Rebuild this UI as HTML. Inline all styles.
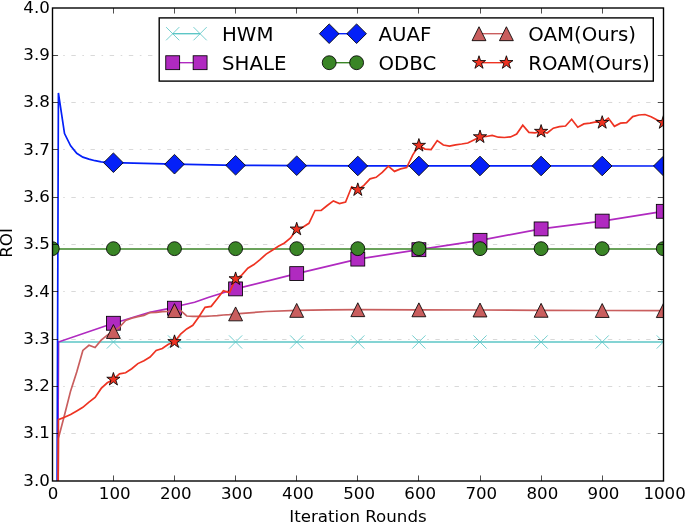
<!DOCTYPE html>
<html><head><meta charset="utf-8"><title>ROI vs Iteration Rounds</title>
<style>html,body{margin:0;padding:0;background:#fff;overflow:hidden}body{width:685px;height:522px;position:relative}</style></head>
<body>
<svg width="685" height="522" viewBox="0 0 685 522" style="display:block;position:absolute;left:0;top:0;will-change:transform">
<rect width="685" height="522" fill="#fff"/>
<defs><clipPath id="ax"><rect x="52.50" y="8.00" width="611.00" height="473.00"/></clipPath></defs>
<line x1="52.20" y1="433.50" x2="663.50" y2="433.50" stroke="#c8c8c8" stroke-width="0.69" stroke-dasharray="4.4 6.6 1.6 6.56"/>
<line x1="52.20" y1="386.50" x2="663.50" y2="386.50" stroke="#c8c8c8" stroke-width="0.69" stroke-dasharray="4.4 6.6 1.6 6.56"/>
<line x1="52.20" y1="339.50" x2="663.50" y2="339.50" stroke="#c8c8c8" stroke-width="0.69" stroke-dasharray="4.4 6.6 1.6 6.56"/>
<line x1="52.20" y1="291.50" x2="663.50" y2="291.50" stroke="#c8c8c8" stroke-width="0.69" stroke-dasharray="4.4 6.6 1.6 6.56"/>
<line x1="52.20" y1="244.50" x2="663.50" y2="244.50" stroke="#c8c8c8" stroke-width="0.69" stroke-dasharray="4.4 6.6 1.6 6.56"/>
<line x1="52.20" y1="197.50" x2="663.50" y2="197.50" stroke="#c8c8c8" stroke-width="0.69" stroke-dasharray="4.4 6.6 1.6 6.56"/>
<line x1="52.20" y1="149.50" x2="663.50" y2="149.50" stroke="#c8c8c8" stroke-width="0.69" stroke-dasharray="4.4 6.6 1.6 6.56"/>
<line x1="52.20" y1="102.50" x2="663.50" y2="102.50" stroke="#c8c8c8" stroke-width="0.69" stroke-dasharray="4.4 6.6 1.6 6.56"/>
<line x1="52.20" y1="55.50" x2="663.50" y2="55.50" stroke="#c8c8c8" stroke-width="0.69" stroke-dasharray="4.4 6.6 1.6 6.56"/>
<g clip-path="url(#ax)">
<polyline points="52.30,1900.00 58.41,342.00 663.50,342.00" fill="none" stroke="#5cc6c6" stroke-width="1.70" stroke-linejoin="miter" stroke-miterlimit="4"/>
<path d="M106.81 335.40L120.00 348.60M106.81 348.60L120.00 335.40" stroke="#5cc6c6" stroke-width="0.85" fill="none"/>
<path d="M167.91 335.40L181.09 348.60M167.91 348.60L181.09 335.40" stroke="#5cc6c6" stroke-width="0.85" fill="none"/>
<path d="M229.00 335.40L242.19 348.60M229.00 348.60L242.19 335.40" stroke="#5cc6c6" stroke-width="0.85" fill="none"/>
<path d="M290.10 335.40L303.30 348.60M290.10 348.60L303.30 335.40" stroke="#5cc6c6" stroke-width="0.85" fill="none"/>
<path d="M351.20 335.40L364.40 348.60M351.20 348.60L364.40 335.40" stroke="#5cc6c6" stroke-width="0.85" fill="none"/>
<path d="M412.30 335.40L425.50 348.60M412.30 348.60L425.50 335.40" stroke="#5cc6c6" stroke-width="0.85" fill="none"/>
<path d="M473.40 335.40L486.60 348.60M473.40 348.60L486.60 335.40" stroke="#5cc6c6" stroke-width="0.85" fill="none"/>
<path d="M534.50 335.40L547.70 348.60M534.50 348.60L547.70 335.40" stroke="#5cc6c6" stroke-width="0.85" fill="none"/>
<path d="M595.60 335.40L608.79 348.60M595.60 348.60L608.79 335.40" stroke="#5cc6c6" stroke-width="0.85" fill="none"/>
<path d="M656.70 335.40L669.89 348.60M656.70 348.60L669.89 335.40" stroke="#5cc6c6" stroke-width="0.85" fill="none"/>
<polyline points="52.30,1900.00 58.41,342.00 113.40,323.25 121.20,321.05 137.50,315.95 149.80,312.40 167.20,308.80 174.50,308.20 181.60,305.20 194.60,302.30 208.90,297.30 223.30,292.70 235.60,288.90 296.70,273.60 357.80,259.10 418.90,249.70 480.00,240.30 541.10,228.90 602.20,221.10 663.30,211.30" fill="none" stroke="#b02ac0" stroke-width="1.70" stroke-linejoin="miter" stroke-miterlimit="4"/>
<rect x="106.46" y="316.31" width="13.89" height="13.89" fill="#b02ac0" stroke="#000" stroke-width="0.85"/>
<rect x="167.56" y="301.25" width="13.89" height="13.89" fill="#b02ac0" stroke="#000" stroke-width="0.85"/>
<rect x="228.65" y="281.95" width="13.89" height="13.89" fill="#b02ac0" stroke="#000" stroke-width="0.85"/>
<rect x="289.75" y="266.66" width="13.89" height="13.89" fill="#b02ac0" stroke="#000" stroke-width="0.85"/>
<rect x="350.86" y="252.16" width="13.89" height="13.89" fill="#b02ac0" stroke="#000" stroke-width="0.85"/>
<rect x="411.95" y="242.75" width="13.89" height="13.89" fill="#b02ac0" stroke="#000" stroke-width="0.85"/>
<rect x="473.06" y="233.36" width="13.89" height="13.89" fill="#b02ac0" stroke="#000" stroke-width="0.85"/>
<rect x="534.15" y="221.96" width="13.89" height="13.89" fill="#b02ac0" stroke="#000" stroke-width="0.85"/>
<rect x="595.25" y="214.16" width="13.89" height="13.89" fill="#b02ac0" stroke="#000" stroke-width="0.85"/>
<rect x="656.35" y="204.36" width="13.89" height="13.89" fill="#b02ac0" stroke="#000" stroke-width="0.85"/>
<polyline points="52.30,1900.00 58.41,93.00 64.52,133.60 70.63,145.80 76.74,153.30 82.85,157.10 88.96,159.10 95.07,160.70 101.18,161.80 107.29,162.30 113.40,162.70 174.50,164.20 235.60,165.30 296.70,165.70 357.80,165.95 663.30,166.00" fill="none" stroke="#0420f8" stroke-width="1.70" stroke-linejoin="miter" stroke-miterlimit="4"/>
<path d="M113.40 152.88L123.22 162.70L113.40 172.52L103.58 162.70Z" fill="#0420f8" stroke="#000" stroke-width="0.85"/>
<path d="M174.50 154.38L184.32 164.20L174.50 174.02L164.68 164.20Z" fill="#0420f8" stroke="#000" stroke-width="0.85"/>
<path d="M235.60 155.48L245.42 165.30L235.60 175.12L225.78 165.30Z" fill="#0420f8" stroke="#000" stroke-width="0.85"/>
<path d="M296.70 155.88L306.52 165.70L296.70 175.52L286.88 165.70Z" fill="#0420f8" stroke="#000" stroke-width="0.85"/>
<path d="M357.80 156.13L367.62 165.95L357.80 175.77L347.98 165.95Z" fill="#0420f8" stroke="#000" stroke-width="0.85"/>
<path d="M418.90 156.14L428.72 165.96L418.90 175.78L409.08 165.96Z" fill="#0420f8" stroke="#000" stroke-width="0.85"/>
<path d="M480.00 156.15L489.82 165.97L480.00 175.79L470.18 165.97Z" fill="#0420f8" stroke="#000" stroke-width="0.85"/>
<path d="M541.10 156.16L550.92 165.98L541.10 175.80L531.28 165.98Z" fill="#0420f8" stroke="#000" stroke-width="0.85"/>
<path d="M602.20 156.17L612.02 165.99L602.20 175.81L592.38 165.99Z" fill="#0420f8" stroke="#000" stroke-width="0.85"/>
<path d="M663.30 156.18L673.12 166.00L663.30 175.82L653.48 166.00Z" fill="#0420f8" stroke="#000" stroke-width="0.85"/>
<polyline points="52.50,249.00 663.50,249.00" fill="none" stroke="#3a8526" stroke-width="1.70" stroke-linejoin="miter" stroke-miterlimit="4"/>
<circle cx="52.30" cy="248.65" r="6.95" fill="#3a8526" stroke="#000" stroke-width="0.85"/>
<circle cx="113.40" cy="248.65" r="6.95" fill="#3a8526" stroke="#000" stroke-width="0.85"/>
<circle cx="174.50" cy="248.65" r="6.95" fill="#3a8526" stroke="#000" stroke-width="0.85"/>
<circle cx="235.60" cy="248.65" r="6.95" fill="#3a8526" stroke="#000" stroke-width="0.85"/>
<circle cx="296.70" cy="248.65" r="6.95" fill="#3a8526" stroke="#000" stroke-width="0.85"/>
<circle cx="357.80" cy="248.65" r="6.95" fill="#3a8526" stroke="#000" stroke-width="0.85"/>
<circle cx="418.90" cy="248.65" r="6.95" fill="#3a8526" stroke="#000" stroke-width="0.85"/>
<circle cx="480.00" cy="248.65" r="6.95" fill="#3a8526" stroke="#000" stroke-width="0.85"/>
<circle cx="541.10" cy="248.65" r="6.95" fill="#3a8526" stroke="#000" stroke-width="0.85"/>
<circle cx="602.20" cy="248.65" r="6.95" fill="#3a8526" stroke="#000" stroke-width="0.85"/>
<circle cx="663.30" cy="248.65" r="6.95" fill="#3a8526" stroke="#000" stroke-width="0.85"/>
<polyline points="52.30,1900.00 58.41,438.30 64.52,415.00 70.63,390.90 76.74,372.00 82.85,350.40 88.96,345.30 95.07,347.60 101.18,340.20 107.29,335.10 113.40,331.50 119.51,327.20 125.62,320.50 131.73,318.30 137.84,316.70 143.95,315.40 150.06,312.60 156.17,312.40 162.28,311.70 168.39,311.35 174.50,310.60 180.61,310.50 186.72,316.00 192.83,316.40 198.94,316.40 205.05,316.30 211.16,316.00 217.27,315.60 223.38,315.00 229.49,314.60 235.60,313.90 266.15,311.50 296.70,310.40 327.25,309.90 357.80,309.70 418.90,309.80 480.00,310.00 541.10,310.30 602.20,310.50 663.30,310.60" fill="none" stroke="#c95e5e" stroke-width="1.70" stroke-linejoin="miter" stroke-miterlimit="4"/>
<path d="M113.40 324.56L106.46 338.44L120.34 338.44Z" fill="#c95e5e" stroke="#000" stroke-width="0.85"/>
<path d="M174.50 303.66L167.56 317.55L181.44 317.55Z" fill="#c95e5e" stroke="#000" stroke-width="0.85"/>
<path d="M235.60 306.95L228.65 320.84L242.54 320.84Z" fill="#c95e5e" stroke="#000" stroke-width="0.85"/>
<path d="M296.70 303.45L289.75 317.34L303.64 317.34Z" fill="#c95e5e" stroke="#000" stroke-width="0.85"/>
<path d="M357.80 302.75L350.86 316.64L364.75 316.64Z" fill="#c95e5e" stroke="#000" stroke-width="0.85"/>
<path d="M418.90 302.86L411.95 316.75L425.84 316.75Z" fill="#c95e5e" stroke="#000" stroke-width="0.85"/>
<path d="M480.00 303.06L473.06 316.94L486.94 316.94Z" fill="#c95e5e" stroke="#000" stroke-width="0.85"/>
<path d="M541.10 303.36L534.15 317.25L548.05 317.25Z" fill="#c95e5e" stroke="#000" stroke-width="0.85"/>
<path d="M602.20 303.56L595.25 317.44L609.14 317.44Z" fill="#c95e5e" stroke="#000" stroke-width="0.85"/>
<path d="M663.30 303.66L656.35 317.55L670.25 317.55Z" fill="#c95e5e" stroke="#000" stroke-width="0.85"/>
<polyline points="52.30,1900.00 58.41,419.60 64.52,417.20 70.63,414.45 76.74,410.90 82.85,407.30 88.96,402.20 95.07,397.40 101.18,388.40 107.29,382.80 113.40,379.40 119.51,373.80 125.62,372.80 131.73,368.70 137.84,363.60 143.95,360.75 150.06,357.00 156.17,350.50 162.28,348.50 168.39,344.20 174.50,341.80 180.61,334.00 186.72,328.90 192.83,325.30 198.94,316.70 205.05,307.40 211.16,306.40 217.27,298.70 223.38,290.80 229.49,292.60 235.60,278.90 241.71,275.10 247.82,268.20 253.93,264.60 260.04,259.60 266.15,254.10 272.26,250.20 278.37,246.20 284.48,243.00 290.59,238.00 296.70,229.20 302.81,227.30 308.92,223.30 315.03,210.50 321.14,210.50 327.25,205.50 333.36,200.90 339.47,203.60 345.58,202.00 351.69,186.80 357.80,189.80 363.91,185.40 370.02,178.80 376.13,177.30 382.24,172.40 388.35,166.10 394.46,171.40 400.57,168.90 406.68,167.60 412.79,154.90 418.90,145.50 425.01,149.10 431.12,149.60 437.23,140.60 443.34,145.00 449.45,146.10 455.56,144.80 461.67,144.00 467.78,143.00 473.89,139.90 480.00,136.90 486.11,136.50 492.22,135.45 498.33,137.20 504.44,137.50 510.55,136.90 516.66,134.10 522.77,125.20 528.88,132.40 534.99,132.80 541.10,131.50 547.21,133.00 553.32,128.20 559.43,126.70 565.54,126.00 571.65,119.30 577.76,127.20 583.87,123.90 589.98,123.10 596.09,121.80 602.20,122.60 608.31,118.10 614.42,126.30 620.53,123.20 626.64,122.70 632.75,116.60 638.86,115.00 644.97,114.50 651.08,116.80 657.19,120.10 663.30,122.70" fill="none" stroke="#ee3322" stroke-width="1.70" stroke-linejoin="miter" stroke-miterlimit="4"/>
<path d="M113.40 372.45L111.84 377.25L106.79 377.25L110.88 380.22L109.32 385.02L113.40 382.05L117.48 385.02L115.92 380.22L120.01 377.25L114.96 377.25Z" fill="#ee3322" stroke="#000" stroke-width="0.85" stroke-linejoin="miter" stroke-miterlimit="3"/>
<path d="M174.50 334.86L172.94 339.65L167.89 339.65L171.98 342.62L170.42 347.42L174.50 344.45L178.58 347.42L177.02 342.62L181.11 339.65L176.06 339.65Z" fill="#ee3322" stroke="#000" stroke-width="0.85" stroke-linejoin="miter" stroke-miterlimit="3"/>
<path d="M235.60 271.95L234.04 276.75L228.99 276.75L233.08 279.72L231.52 284.52L235.60 281.55L239.68 284.52L238.12 279.72L242.21 276.75L237.16 276.75Z" fill="#ee3322" stroke="#000" stroke-width="0.85" stroke-linejoin="miter" stroke-miterlimit="3"/>
<path d="M296.70 222.25L295.14 227.05L290.09 227.05L294.18 230.02L292.62 234.82L296.70 231.85L300.78 234.82L299.22 230.02L303.31 227.05L298.26 227.05Z" fill="#ee3322" stroke="#000" stroke-width="0.85" stroke-linejoin="miter" stroke-miterlimit="3"/>
<path d="M357.80 182.86L356.24 187.65L351.19 187.65L355.28 190.62L353.72 195.42L357.80 192.45L361.88 195.42L360.32 190.62L364.41 187.65L359.36 187.65Z" fill="#ee3322" stroke="#000" stroke-width="0.85" stroke-linejoin="miter" stroke-miterlimit="3"/>
<path d="M418.90 138.56L417.34 143.35L412.29 143.35L416.38 146.32L414.82 151.12L418.90 148.15L422.98 151.12L421.42 146.32L425.51 143.35L420.46 143.35Z" fill="#ee3322" stroke="#000" stroke-width="0.85" stroke-linejoin="miter" stroke-miterlimit="3"/>
<path d="M480.00 129.96L478.44 134.75L473.39 134.75L477.48 137.72L475.92 142.52L480.00 139.55L484.08 142.52L482.52 137.72L486.61 134.75L481.56 134.75Z" fill="#ee3322" stroke="#000" stroke-width="0.85" stroke-linejoin="miter" stroke-miterlimit="3"/>
<path d="M541.10 124.56L539.54 129.35L534.49 129.35L538.58 132.32L537.02 137.12L541.10 134.15L545.18 137.12L543.62 132.32L547.71 129.35L542.66 129.35Z" fill="#ee3322" stroke="#000" stroke-width="0.85" stroke-linejoin="miter" stroke-miterlimit="3"/>
<path d="M602.20 115.66L600.64 120.45L595.59 120.45L599.68 123.42L598.12 128.22L602.20 125.25L606.28 128.22L604.72 123.42L608.81 120.45L603.76 120.45Z" fill="#ee3322" stroke="#000" stroke-width="0.85" stroke-linejoin="miter" stroke-miterlimit="3"/>
<path d="M663.30 115.75L661.74 120.55L656.69 120.55L660.78 123.52L659.22 128.32L663.30 125.35L667.38 128.32L665.82 123.52L669.91 120.55L664.86 120.55Z" fill="#ee3322" stroke="#000" stroke-width="0.85" stroke-linejoin="miter" stroke-miterlimit="3"/>
</g>
<path d="M113.50 481.00V475.44M113.50 8.00V13.56M52.50 433.50H58.06M663.50 433.50H657.94M174.50 481.00V475.44M174.50 8.00V13.56M52.50 386.50H58.06M663.50 386.50H657.94M235.50 481.00V475.44M235.50 8.00V13.56M52.50 339.50H58.06M663.50 339.50H657.94M296.50 481.00V475.44M296.50 8.00V13.56M52.50 291.50H58.06M663.50 291.50H657.94M357.50 481.00V475.44M357.50 8.00V13.56M52.50 244.50H58.06M663.50 244.50H657.94M418.50 481.00V475.44M418.50 8.00V13.56M52.50 197.50H58.06M663.50 197.50H657.94M480.50 481.00V475.44M480.50 8.00V13.56M52.50 149.50H58.06M663.50 149.50H657.94M541.50 481.00V475.44M541.50 8.00V13.56M52.50 102.50H58.06M663.50 102.50H657.94M602.50 481.00V475.44M602.50 8.00V13.56M52.50 55.50H58.06M663.50 55.50H657.94" stroke="#000" stroke-width="0.69" fill="none"/>
<rect x="52.50" y="8.00" width="611.00" height="473.00" fill="none" stroke="#000" stroke-width="1.39"/>
<g font-family="'DejaVu Sans', 'Liberation Sans', sans-serif" font-size="16.67" fill="#000">
<text x="53.10" y="498.76" text-anchor="middle">0</text>
<text x="49.84" y="485.70" text-anchor="end">3.0</text>
<text x="114.70" y="498.76" text-anchor="middle">100</text>
<text x="49.84" y="438.40" text-anchor="end">3.1</text>
<text x="175.80" y="498.76" text-anchor="middle">200</text>
<text x="49.84" y="391.10" text-anchor="end">3.2</text>
<text x="236.90" y="498.76" text-anchor="middle">300</text>
<text x="49.84" y="343.80" text-anchor="end">3.3</text>
<text x="298.00" y="498.76" text-anchor="middle">400</text>
<text x="49.84" y="296.50" text-anchor="end">3.4</text>
<text x="359.10" y="498.76" text-anchor="middle">500</text>
<text x="49.84" y="249.20" text-anchor="end">3.5</text>
<text x="420.20" y="498.76" text-anchor="middle">600</text>
<text x="49.84" y="201.90" text-anchor="end">3.6</text>
<text x="481.30" y="498.76" text-anchor="middle">700</text>
<text x="49.84" y="154.60" text-anchor="end">3.7</text>
<text x="542.40" y="498.76" text-anchor="middle">800</text>
<text x="49.84" y="107.30" text-anchor="end">3.8</text>
<text x="603.50" y="498.76" text-anchor="middle">900</text>
<text x="49.84" y="60.00" text-anchor="end">3.9</text>
<text x="664.60" y="498.76" text-anchor="middle">1000</text>
<text x="49.84" y="12.70" text-anchor="end">4.0</text>
<text x="358.00" y="522.40" text-anchor="middle">Iteration Rounds</text>
<text transform="translate(11.60 243.00) rotate(-90)" text-anchor="middle">ROI</text>
</g>
<rect x="159.20" y="17.90" width="494.10" height="63.20" fill="#fff" stroke="#000" stroke-width="1.39"/>
<g font-family="'DejaVu Sans', 'Liberation Sans', sans-serif" font-size="19.75" fill="#000">
<polyline points="172.70,33.70 200.10,33.70" fill="none" stroke="#5cc6c6" stroke-width="1.39" stroke-linejoin="miter" stroke-miterlimit="4"/>
<path d="M166.10 27.11L179.29 40.30M166.10 40.30L179.29 27.11" stroke="#5cc6c6" stroke-width="0.85" fill="none"/>
<path d="M193.50 27.11L206.69 40.30M193.50 40.30L206.69 27.11" stroke="#5cc6c6" stroke-width="0.85" fill="none"/>
<text x="222.00" y="40.70">HWM</text>
<polyline points="172.70,62.70 200.10,62.70" fill="none" stroke="#b02ac0" stroke-width="1.39" stroke-linejoin="miter" stroke-miterlimit="4"/>
<rect x="165.75" y="55.76" width="13.89" height="13.89" fill="#b02ac0" stroke="#000" stroke-width="0.85"/>
<rect x="193.16" y="55.76" width="13.89" height="13.89" fill="#b02ac0" stroke="#000" stroke-width="0.85"/>
<text x="222.00" y="69.70">SHALE</text>
<polyline points="329.20,33.70 356.60,33.70" fill="none" stroke="#0420f8" stroke-width="1.39" stroke-linejoin="miter" stroke-miterlimit="4"/>
<path d="M329.20 23.88L339.02 33.70L329.20 43.52L319.38 33.70Z" fill="#0420f8" stroke="#000" stroke-width="0.85"/>
<path d="M356.60 23.88L366.42 33.70L356.60 43.52L346.78 33.70Z" fill="#0420f8" stroke="#000" stroke-width="0.85"/>
<text x="378.50" y="40.70">AUAF</text>
<polyline points="329.20,62.70 356.60,62.70" fill="none" stroke="#3a8526" stroke-width="1.39" stroke-linejoin="miter" stroke-miterlimit="4"/>
<circle cx="329.20" cy="62.70" r="6.95" fill="#3a8526" stroke="#000" stroke-width="0.85"/>
<circle cx="356.60" cy="62.70" r="6.95" fill="#3a8526" stroke="#000" stroke-width="0.85"/>
<text x="378.50" y="69.70">ODBC</text>
<polyline points="479.00,33.70 506.40,33.70" fill="none" stroke="#c95e5e" stroke-width="1.39" stroke-linejoin="miter" stroke-miterlimit="4"/>
<path d="M479.00 26.76L472.06 40.65L485.94 40.65Z" fill="#c95e5e" stroke="#000" stroke-width="0.85"/>
<path d="M506.40 26.76L499.45 40.65L513.35 40.65Z" fill="#c95e5e" stroke="#000" stroke-width="0.85"/>
<text x="528.30" y="40.70">OAM(Ours)</text>
<polyline points="479.00,62.70 506.40,62.70" fill="none" stroke="#ee3322" stroke-width="1.39" stroke-linejoin="miter" stroke-miterlimit="4"/>
<path d="M479.00 55.76L477.44 60.55L472.39 60.55L476.48 63.52L474.92 68.32L479.00 65.35L483.08 68.32L481.52 63.52L485.61 60.55L480.56 60.55Z" fill="#ee3322" stroke="#000" stroke-width="0.85" stroke-linejoin="miter" stroke-miterlimit="3"/>
<path d="M506.40 55.76L504.84 60.55L499.79 60.55L503.88 63.52L502.32 68.32L506.40 65.35L510.48 68.32L508.92 63.52L513.01 60.55L507.96 60.55Z" fill="#ee3322" stroke="#000" stroke-width="0.85" stroke-linejoin="miter" stroke-miterlimit="3"/>
<text x="528.30" y="69.70">ROAM(Ours)</text>
</g>
</svg>
</body></html>
